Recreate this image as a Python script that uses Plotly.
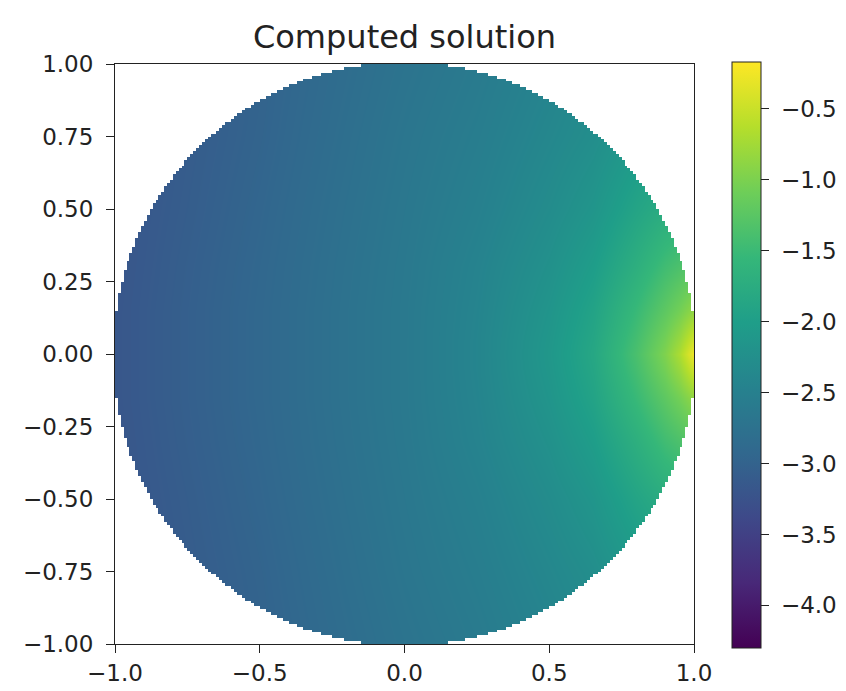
import numpy as np
import plotly.graph_objects as go

# Values (coarse sample grid of the computed field)
x_nodes = [-1.0, -0.75, -0.5, -0.25, 0.0, 0.25, 0.5, 0.65, 0.8, 0.9, 0.95, 1.0]
y_nodes = [-1.0, -0.75, -0.5, -0.3, -0.15, -0.05, 0.0, 0.05, 0.15, 0.3, 0.5, 0.75, 1.0]
z_rows = [
    [-3.25, -3.12, -3.00, -2.86, -2.72, -2.60, -2.45, -2.35, -2.20, -2.10, -2.05, -2.00],  # y=-1.0
    [-3.22, -3.10, -2.98, -2.83, -2.68, -2.55, -2.38, -2.27, -2.10, -2.00, -1.95, -1.90],  # y=-0.75
    [-3.20, -3.08, -2.95, -2.80, -2.65, -2.50, -2.30, -2.15, -1.90, -1.75, -1.70, -1.65],  # y=-0.5
    [-3.19, -3.06, -2.93, -2.78, -2.63, -2.45, -2.22, -2.02, -1.70, -1.45, -1.35, -1.25],  # y=-0.3
    [-3.18, -3.05, -2.92, -2.77, -2.62, -2.43, -2.16, -1.92, -1.52, -1.22, -1.05, -0.85],  # y=-0.15
    [-3.18, -3.05, -2.92, -2.77, -2.62, -2.42, -2.13, -1.87, -1.42, -1.05, -0.80, -0.45],  # y=-0.05
    [-3.18, -3.05, -2.92, -2.77, -2.62, -2.42, -2.12, -1.85, -1.38, -0.98, -0.68, -0.25],  # y=0
    [-3.18, -3.05, -2.92, -2.77, -2.62, -2.42, -2.13, -1.87, -1.42, -1.05, -0.80, -0.45],  # y=0.05
    [-3.18, -3.05, -2.92, -2.77, -2.62, -2.43, -2.16, -1.92, -1.52, -1.22, -1.05, -0.85],  # y=0.15
    [-3.19, -3.06, -2.93, -2.78, -2.63, -2.45, -2.22, -2.02, -1.70, -1.45, -1.35, -1.25],  # y=0.3
    [-3.20, -3.08, -2.95, -2.80, -2.65, -2.50, -2.30, -2.15, -1.90, -1.75, -1.70, -1.65],  # y=0.5
    [-3.22, -3.10, -2.98, -2.83, -2.68, -2.55, -2.38, -2.27, -2.10, -2.00, -1.95, -1.90],  # y=0.75
    [-3.25, -3.12, -3.00, -2.86, -2.72, -2.60, -2.45, -2.35, -2.20, -2.10, -2.05, -2.00],  # y=1.0
]
z_min = -4.30
z_max = -0.17

x_ticks = [-1.0, -0.5, 0.0, 0.5, 1.0]
x_ticktext = ["\u22121.0", "\u22120.5", "0.0", "0.5", "1.0"]
y_ticks = [-1.0, -0.75, -0.5, -0.25, 0.0, 0.25, 0.5, 0.75, 1.0]
y_ticktext = ["\u22121.00", "\u22120.75", "\u22120.50", "\u22120.25", "0.00", "0.25", "0.50", "0.75", "1.00"]
cb_ticks = [-4.0, -3.5, -3.0, -2.5, -2.0, -1.5, -1.0, -0.5]
cb_ticktext = ["\u22124.0", "\u22123.5", "\u22123.0", "\u22122.5", "\u22122.0", "\u22121.5", "\u22121.0", "\u22120.5"]

# Domain mask (pixelated disk, as in the sampled grid of the reference)
n_cells = 200
radius = 1.007
centers = -1 + (np.arange(n_cells) + 0.5) * (2.0 / n_cells)
XX, YY = np.meshgrid(centers, centers)
mask = np.where(XX**2 + YY**2 > radius**2, 0.0, np.nan)

FONT = "DejaVu Sans"
TXT = "#222222"
TICK_SIZE = 23

# page body adds ~7px offset; compensate in margins
L, T, PW, PH = 107, 56, 579, 580
W, H = 846, 691
fig = go.Figure()
fig.add_trace(go.Heatmap(
    x=x_nodes, y=y_nodes, z=z_rows,
    zsmooth="best", colorscale="Viridis", zmin=z_min, zmax=z_max,
    colorbar=dict(
        x=(731 - 114) / PW, xanchor="left", xref="paper", xpad=0,
        y=(643 - (61 + 647) / 2) / PH, yanchor="middle", yref="paper", ypad=0,
        len=586, lenmode="pixels", thickness=29, thicknessmode="pixels",
        outlinewidth=1, outlinecolor="#222222",
        tickmode="array", tickvals=cb_ticks,
        ticktext=["\u00a0" + t for t in cb_ticktext],
        ticks="outside", ticklen=8, tickcolor="#222222", tickwidth=1,
        tickfont=dict(family=FONT, size=TICK_SIZE, color=TXT),
    ),
    hoverinfo="skip",
))
fig.add_trace(go.Heatmap(
    x=centers, y=centers, z=mask,
    colorscale=[[0, "white"], [1, "white"]], showscale=False,
    zsmooth=False, hoverinfo="skip",
))

fig.update_layout(
    width=W, height=H,
    margin=dict(l=L, r=W - L - PW, t=T, b=H - T - PH, autoexpand=False),
    paper_bgcolor="white", plot_bgcolor="white",
    title=dict(text="Computed solution", x=0.5, xref="paper", xanchor="center",
               y=1 - 29 / H, yref="container", yanchor="middle",
               font=dict(family=FONT, size=32, color=TXT)),
    showlegend=False,
)
fig.update_xaxes(
    range=[-1, 1], tickmode="array", tickvals=x_ticks, ticktext=x_ticktext,
    ticks="outside", ticklen=8, tickcolor="#222222",
    showline=True, linecolor="#222222", linewidth=1, mirror=True,
    showgrid=False, zeroline=False, automargin=False,
    tickfont=dict(family=FONT, size=TICK_SIZE, color=TXT),
)
fig.update_yaxes(
    range=[-1, 1], tickmode="array", tickvals=y_ticks, ticktext=y_ticktext,
    ticks="outside", ticklen=8, tickcolor="#222222",
    showline=True, linecolor="#222222", linewidth=1, mirror=True,
    showgrid=False, zeroline=False, automargin=False,
    ticklabelstandoff=8,
    tickfont=dict(family=FONT, size=TICK_SIZE, color=TXT),
)

fig.write_html("out.html")
